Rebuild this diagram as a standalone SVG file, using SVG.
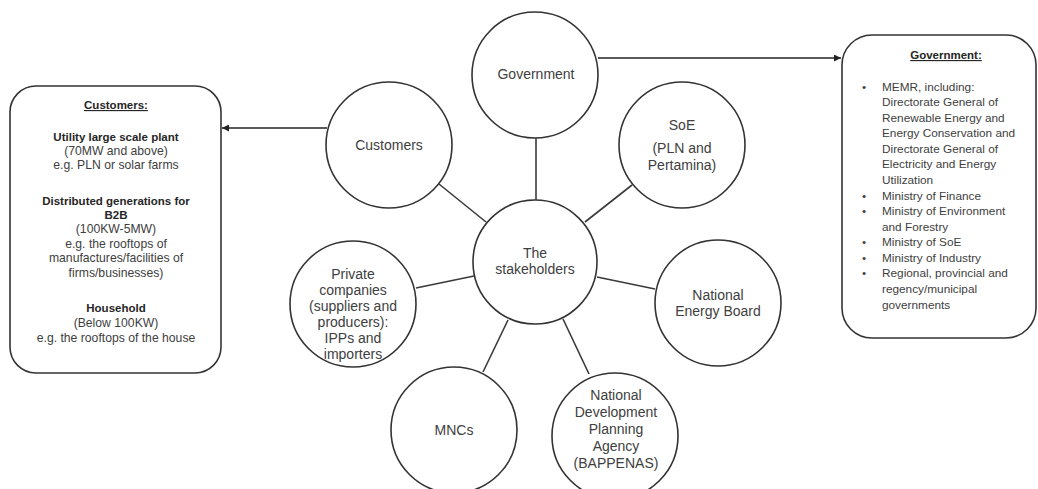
<svg xmlns="http://www.w3.org/2000/svg" width="1038" height="489" viewBox="0 0 1038 489">
  <style>
    .bg { fill: #ffffff; }
    .node circle { fill: #ffffff; stroke: #333333; stroke-width: 1.6; }
    .box rect { fill: #ffffff; stroke: #333333; stroke-width: 1.6; }
    .link { stroke: #3a3a3a; stroke-width: 1.6; fill: none; }
    .arrow { stroke: #222222; stroke-width: 1.6; fill: none; marker-end: url(#head); }
    text { font-family: "Liberation Sans", Arial, sans-serif; fill: #404040; }
    .lbl { font-size: 14px; text-anchor: middle; }
    .t { font-size: 12.2px; text-anchor: middle; }
    .b { font-weight: bold; font-size: 11.5px; fill: #262626; }
    .u { text-decoration: underline; }
    .li { font-size: 11.8px; }
  </style>
  <defs>
    <marker id="head" viewBox="0 0 10 10" refX="10" refY="5" markerWidth="7" markerHeight="7" markerUnits="userSpaceOnUse" orient="auto">
      <path d="M0,0 L10,5 L0,10 z" fill="#222222"/>
    </marker>
  </defs>

  <rect class="bg" x="0" y="0" width="1038" height="489"/>

  <!-- spokes from the hub, plus the two callout arrows -->
  <g id="connectors">
    <line class="link" x1="536" y1="137" x2="536" y2="200"/>
    <line class="link" x1="439" y1="184" x2="486" y2="222"/>
    <line class="link" x1="632" y1="185" x2="585" y2="222"/>
    <line class="link" x1="416" y1="288" x2="474" y2="276"/>
    <line class="link" x1="597" y1="277" x2="655" y2="289"/>
    <line class="link" x1="508" y1="320" x2="483" y2="372"/>
    <line class="link" x1="563" y1="319" x2="589" y2="374"/>
    <line class="arrow" x1="598" y1="58" x2="841" y2="58"/>
    <line class="arrow" x1="327" y1="128" x2="222" y2="128"/>
  </g>

  <g id="node-government" class="node">
    <circle cx="535" cy="75" r="63"/>
    <text class="lbl" x="536" y="79">Government</text>
  </g>

  <g id="node-customers" class="node">
    <circle cx="389" cy="145" r="63"/>
    <text class="lbl" x="389" y="150">Customers</text>
  </g>

  <g id="node-soe" class="node">
    <circle cx="682" cy="145" r="63"/>
    <text class="lbl" x="682" y="130">SoE</text>
    <text class="lbl" x="682" y="153">(PLN and</text>
    <text class="lbl" x="682" y="170">Pertamina)</text>
  </g>

  <g id="node-stakeholders" class="node">
    <circle cx="535" cy="262" r="62"/>
    <text class="lbl" x="535" y="258">The</text>
    <text class="lbl" x="535" y="274">stakeholders</text>
  </g>

  <g id="node-private" class="node">
    <circle cx="353" cy="304" r="63"/>
    <text class="lbl" x="353" y="279">Private</text>
    <text class="lbl" x="353" y="295">companies</text>
    <text class="lbl" x="353" y="311">(suppliers and</text>
    <text class="lbl" x="353" y="327">producers):</text>
    <text class="lbl" x="353" y="343">IPPs and</text>
    <text class="lbl" x="353" y="359">importers</text>
  </g>

  <g id="node-neb" class="node">
    <circle cx="718" cy="303" r="63"/>
    <text class="lbl" x="718" y="300">National</text>
    <text class="lbl" x="718" y="316">Energy Board</text>
  </g>

  <g id="node-mncs" class="node">
    <circle cx="454" cy="430" r="63"/>
    <text class="lbl" x="454" y="435">MNCs</text>
  </g>

  <g id="node-bappenas" class="node">
    <circle cx="615" cy="436" r="63"/>
    <text class="lbl" x="616" y="400">National</text>
    <text class="lbl" x="616" y="417">Development</text>
    <text class="lbl" x="616" y="434">Planning</text>
    <text class="lbl" x="616" y="451">Agency</text>
    <text class="lbl" x="616" y="468">(BAPPENAS)</text>
  </g>

  <g id="box-customers" class="box">
    <rect x="10" y="86" width="211" height="287" rx="26" ry="26"/>
    <text class="t b u" x="116" y="109">Customers:</text>
    <text class="t b" x="116" y="141">Utility large scale plant</text>
    <text class="t" x="116" y="155">(70MW and above)</text>
    <text class="t" x="116" y="169">e.g. PLN or solar farms</text>
    <text class="t b" x="116" y="205">Distributed generations for</text>
    <text class="t b" x="116" y="219">B2B</text>
    <text class="t" x="116" y="233">(100KW-5MW)</text>
    <text class="t" x="116" y="248">e.g. the rooftops of</text>
    <text class="t" x="116" y="262">manufactures/facilities of</text>
    <text class="t" x="116" y="277">firms/businesses)</text>
    <text class="t b" x="116" y="312">Household</text>
    <text class="t" x="116" y="327">(Below 100KW)</text>
    <text class="t" x="116" y="342">e.g. the rooftops of the house</text>
  </g>

  <g id="box-government" class="box">
    <rect x="842" y="35" width="194" height="303" rx="30" ry="30"/>
    <text class="t b u" x="946" y="59">Government:</text>
    <g class="li">
      <text x="862" y="91">•</text><text x="882" y="91">MEMR, including:</text>
      <text x="882" y="106">Directorate General of</text>
      <text x="882" y="122">Renewable Energy and</text>
      <text x="882" y="137">Energy Conservation and</text>
      <text x="882" y="153">Directorate General of</text>
      <text x="882" y="168">Electricity and Energy</text>
      <text x="882" y="184">Utilization</text>
      <text x="862" y="200">•</text><text x="882" y="200">Ministry of Finance</text>
      <text x="862" y="215">•</text><text x="882" y="215">Ministry of Environment</text>
      <text x="882" y="231">and Forestry</text>
      <text x="862" y="246">•</text><text x="882" y="246">Ministry of SoE</text>
      <text x="862" y="262">•</text><text x="882" y="262">Ministry of Industry</text>
      <text x="862" y="277">•</text><text x="882" y="277">Regional, provincial and</text>
      <text x="882" y="293">regency/municipal</text>
      <text x="882" y="309">governments</text>
    </g>
  </g>
</svg>
